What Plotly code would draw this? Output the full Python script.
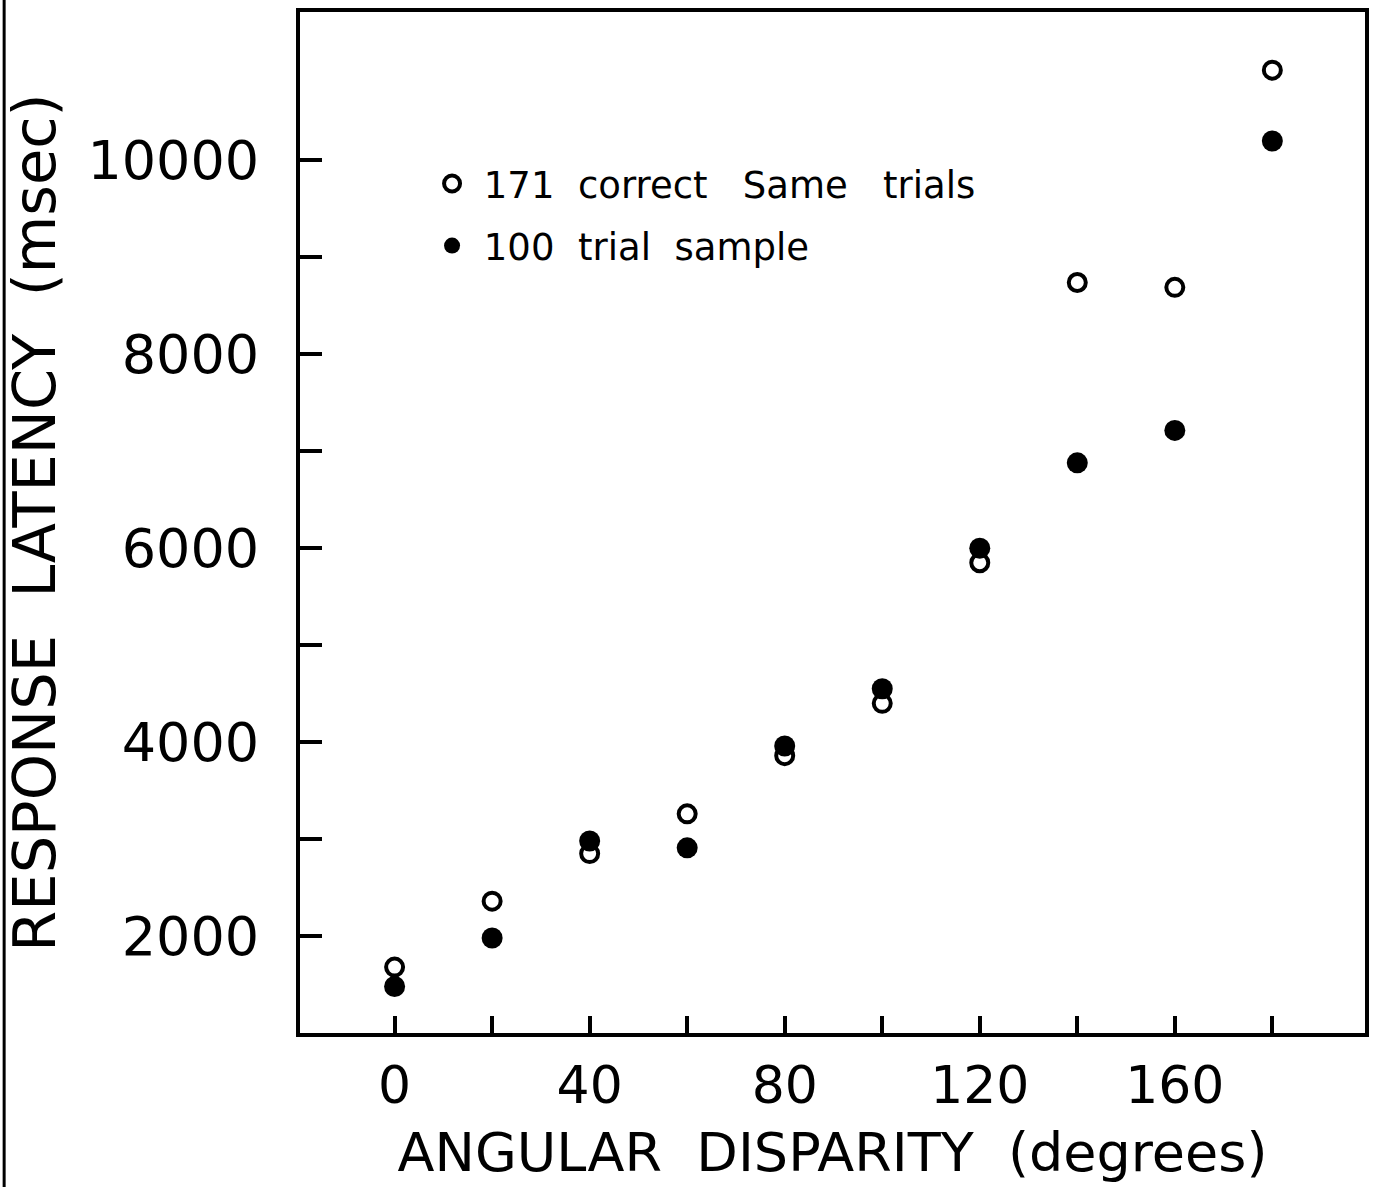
import plotly.graph_objects as go

angles = [0, 20, 40, 60, 80, 100, 120, 140, 160, 180]
correct_same = [1680, 2360, 2850, 3260, 3860, 4400, 5850, 8740, 8690, 10930]
sample_100 = [1480, 1980, 2980, 2910, 3960, 4550, 6000, 6880, 7215, 10200]

x_tickvals = [0, 20, 40, 60, 80, 100, 120, 140, 160, 180]
x_ticktext = ["0", "", "40", "", "80", "", "120", "", "160", ""]
y_tickvals = [2000, 3000, 4000, 5000, 6000, 7000, 8000, 9000, 10000]
y_ticktext = ["2000", "", "4000", "", "6000", "", "8000", "", "10000"]

FONT = "DejaVu Sans"

fig = go.Figure()
fig.add_trace(go.Scatter(
    x=angles, y=correct_same, mode="markers", name=" 171  correct   Same   trials",
    legendgroup="a",
    marker=dict(symbol="circle-open", size=17, color="black", line=dict(width=4, color="black")),
))
fig.add_trace(go.Scatter(
    x=angles, y=sample_100, mode="markers", name=" 100  trial  sample",
    legendgroup="b",
    marker=dict(symbol="circle", size=21, color="black", line=dict(width=0)),
))

# scan edge line at far left
fig.add_shape(type="line", xref="paper", yref="paper",
              x0=-0.2778, x1=-0.2778, y0=-0.151, y1=1.012,
              line=dict(color="black", width=3))

fig.update_layout(
    width=1373, height=1187,
    margin=dict(l=300, r=4, t=12, b=154),
    paper_bgcolor="white", plot_bgcolor="white",
    font=dict(family=FONT, color="black"),
    showlegend=True,
    legend=dict(
        x=0.124, y=0.862, xanchor="left", yanchor="top",
        font=dict(size=37, family=FONT, color="black"),
        bgcolor="rgba(0,0,0,0)", tracegroupgap=11,
        itemsizing="trace",
    ),
)

fig.update_xaxes(
    range=[-19.4, 199.0], tickmode="array", tickvals=x_tickvals, ticktext=x_ticktext,
    ticks="inside", ticklen=17, tickwidth=4, tickcolor="black",
    showline=True, linewidth=4, linecolor="black", mirror=True,
    showgrid=False, zeroline=False,
    tickfont=dict(size=52, family=FONT), ticklabelstandoff=4,
    title=dict(text="ANGULAR  DISPARITY  (degrees)", font=dict(size=54, family=FONT), standoff=20),
)
fig.update_yaxes(
    range=[1000, 11530], tickmode="array", tickvals=y_tickvals, ticktext=y_ticktext,
    ticks="inside", ticklen=22, tickwidth=4, tickcolor="black",
    showline=True, linewidth=4, linecolor="black", mirror=True,
    showgrid=False, zeroline=False,
    tickfont=dict(size=54, family=FONT), ticklabelstandoff=26,
    title=dict(text="RESPONSE  LATENCY  (msec)", font=dict(size=59, family=FONT), standoff=14),
)

fig.write_html("out.html", config={"displayModeBar": False},
               post_script="document.body.style.margin='0';document.body.style.overflow='hidden';")
